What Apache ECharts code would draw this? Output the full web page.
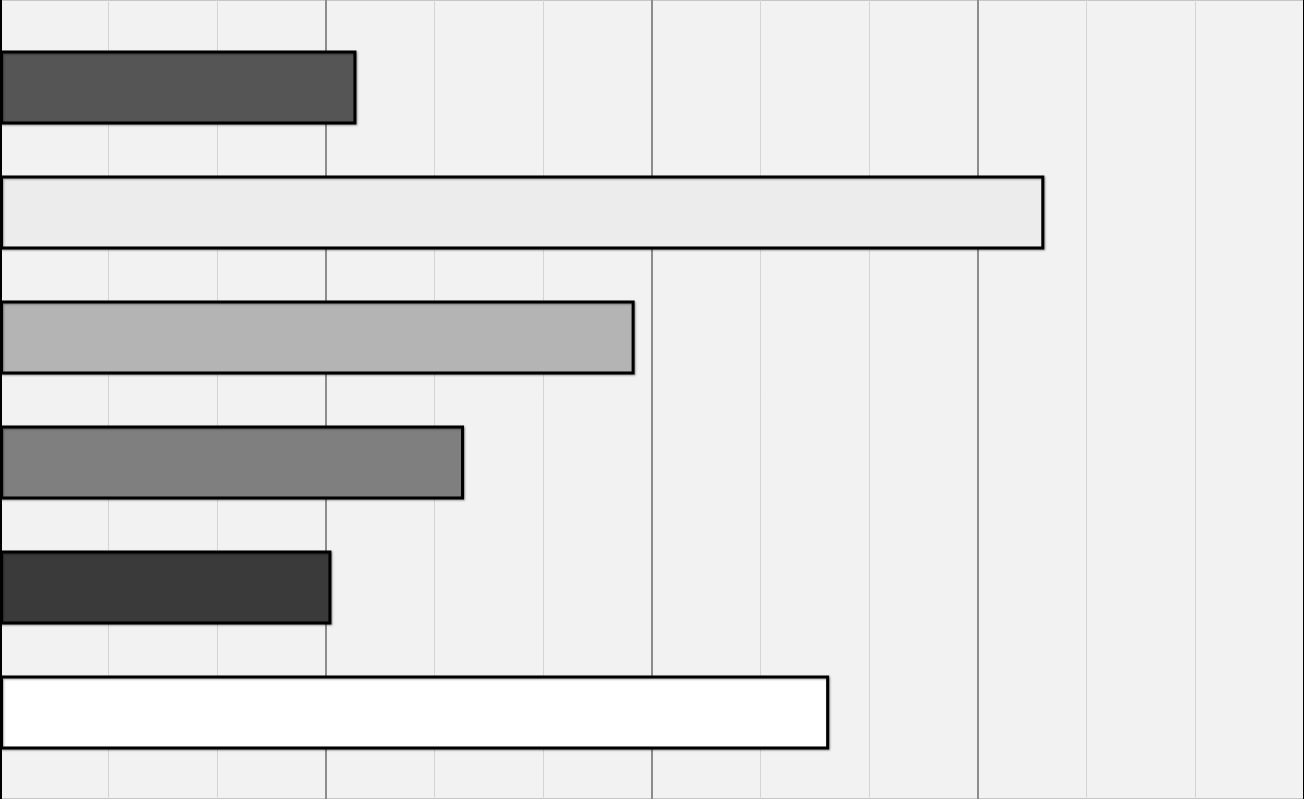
<!DOCTYPE html>
<html><head><meta charset="utf-8">
<script src="https://cdn.jsdelivr.net/npm/echarts@6/dist/echarts.min.js"></script>
<style>html,body{margin:0;padding:0;background:#f2f2f2;}#c{width:1304px;height:799px;}</style>
</head><body><div id="c"></div>
<script>
const categories = ['A', 'B', 'C', 'D', 'E', 'F'];
const values = [3.28, 9.61, 5.84, 4.27, 3.05, 7.63];
const barColors = ['#555555', '#ececec', '#b4b4b4', '#7f7f7f', '#3a3a3a', '#ffffff'];
const xMin = 0, xMax = 12, xMajor = 3;

const hiddenAxis = {axisLine: {show: false}, axisTick: {show: false}, axisLabel: {show: false}, splitLine: {show: false}};
const chart = echarts.init(document.getElementById('c'), null, {renderer: 'canvas'});
chart.setOption({
  animation: false,
  backgroundColor: '#f2f2f2',
  grid: [
    {left: 0, right: 0, top: 0, bottom: 0, show: true, borderColor: '#9a9a9a', borderWidth: 1, backgroundColor: '#f2f2f2'},
    {left: 0, right: 0, top: 25, bottom: 24}
  ],
  xAxis: [{
    gridIndex: 0, type: 'value', min: xMin, max: xMax, interval: xMajor,
    axisLine: {show: false}, axisTick: {show: false}, axisLabel: {show: false},
    splitLine: {show: true, lineStyle: {color: '#8c8c8c', width: 2}},
    minorTick: {show: false, splitNumber: 3},
    minorSplitLine: {show: true, lineStyle: {color: '#d4d4d4', width: 1}}
  }, Object.assign({gridIndex: 1, type: 'value', min: xMin, max: xMax}, hiddenAxis)],
  yAxis: [{
    gridIndex: 0, type: 'value', min: 0, max: 1,
    axisLine: {show: true, onZero: false, lineStyle: {color: '#000', width: 3}},
    axisTick: {show: false}, axisLabel: {show: false}, splitLine: {show: false}
  }, {
    gridIndex: 0, type: 'value', min: 0, max: 1, position: 'right',
    axisLine: {show: true, onZero: false, lineStyle: {color: '#000', width: 3}},
    axisTick: {show: false}, axisLabel: {show: false}, splitLine: {show: false}
  }, Object.assign({gridIndex: 1, type: 'category', data: categories, inverse: true}, hiddenAxis)],
  series: [{
    type: 'bar',
    xAxisIndex: 1, yAxisIndex: 2,
    barWidth: 74,
    data: values.map((v, i) => ({
      value: v,
      itemStyle: {color: barColors[i]}
    })),
    itemStyle: {
      borderColor: '#000', borderWidth: 3,
      shadowColor: 'rgba(0,0,0,0.35)', shadowBlur: 2, shadowOffsetX: 1, shadowOffsetY: 1
    }
  }]
});
</script></body></html>
